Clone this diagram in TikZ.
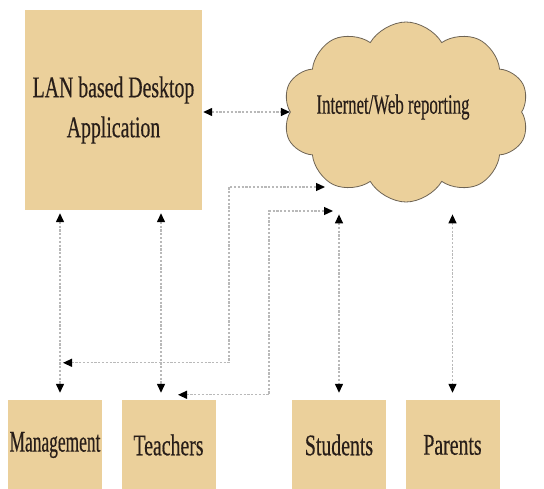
\documentclass[tikz,border=0pt]{standalone}
\usepackage{fontspec}
\setmainfont{Liberation Serif}
\newfontfamily\condA[FakeStretch=0.66,FakeBold=0.4]{Liberation Serif}
\newfontfamily\condB[FakeStretch=0.60,FakeBold=0.4]{Liberation Serif}
\newfontfamily\condM[FakeStretch=0.58,FakeBold=0.4]{Liberation Serif}
\usetikzlibrary{arrows.meta,shapes.symbols,calc}
\definecolor{papyrus}{RGB}{235,208,155}
\definecolor{cloudline}{RGB}{110,100,85}
\definecolor{ink}{RGB}{40,30,25}
\begin{document}
\begin{tikzpicture}[x=1pt,y=-1pt,
  box/.style={fill=papyrus, inner sep=0pt, align=center, text=ink},
  bottombox/.style={box, minimum width=94pt, minimum height=90pt},
  lbl/.style={font=\condA\fontsize{30}{40}\selectfont},
  conn/.style={draw=gray!55, line width=1.3pt, dash pattern=on 2.2pt off 1.6pt,
    {Triangle[length=9pt,width=8pt,black]}-{Triangle[length=9pt,width=8pt,black]}}]
\useasboundingbox (0,0) rectangle (544,489);
\fill[white] (0,0) rectangle (544,489);

\node[box, minimum width=177pt, minimum height=200pt, lbl] (lan) at (113.5,110)
  {LAN based Desktop\\Application};
\node[cloud, cloud puffs=10, cloud puff arc=120, aspect=1.33,
  fill=papyrus, draw=cloudline, line width=0.8pt,
  minimum width=246pt, minimum height=180pt, inner sep=0pt] (cloud) at (406,112) {};
\node[text=ink, font=\condB\fontsize{28}{30}\selectfont, inner sep=0pt] (cloudtext) at (393,107) {Internet/Web reporting};

\node[bottombox, lbl] (mgmt) at (55,445) {{\condM Management}};
\node[bottombox, lbl] (teach) at (168.5,445) {Teachers};
\node[bottombox, lbl] (stud) at (339,445) {Students};
\node[bottombox, lbl] (par) at (452.5,445) {Parents};

% LAN <-> cloud
\draw[conn] ([xshift=1pt,yshift=-2pt]lan.east) -- ([yshift=-2pt]lan.east -| cloud.west);
% LAN <-> Management / Teachers
\draw[conn] ($(lan.south)+(-53.5,3)$) -- ($(mgmt.north)+(5,-7)$);
\draw[conn] ($(lan.south)+(47.5,3)$) -- ($(teach.north)+(-7.5,-7)$);
% cloud <-> Students / Parents
\draw[conn] ($(stud.north |- cloud.south)+(0,12)$) -- ($(stud.north)+(0,-7)$);
\draw[conn] ($(par.north |- cloud.south)+(0,12)$) -- ($(par.north)+(0,-7)$);
% cloud <-> Management (elbow)
\draw[conn] ($(mgmt.north)+(8,-37)$) -- ++(166,0) |- ($(cloud.center)+(-81,75)$);
% cloud <-> Teachers (elbow)
\draw[conn] ($(teach.north)+(9.5,-5)$) -- ++(91,0) |- ($(cloud.center)+(-73,99)$);
\end{tikzpicture}
\end{document}
